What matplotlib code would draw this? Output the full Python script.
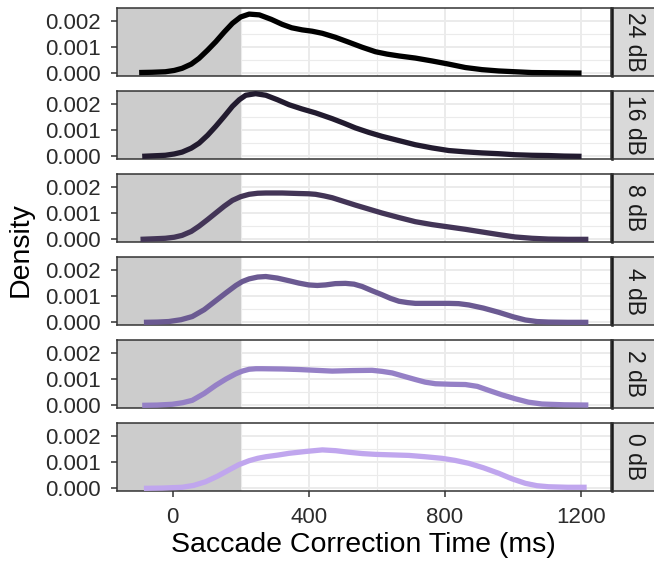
import matplotlib
matplotlib.use("Agg")
import matplotlib.pyplot as plt

plt.rcParams['font.family'] = ['Liberation Sans', 'DejaVu Sans']

# facet labels, top to bottom
levels = ['24 dB', '16 dB', '8 dB', '4 dB', '2 dB', '0 dB']
colors = ['#000000', '#221b2f', '#433557', '#6b5a92', '#9580c6', '#c0a6ee']

# density curves (x in ms, y density)
x_24 = [-98, -60, -21, 5, 28, 55, 78, 103, 127, 152, 176, 200, 225, 255, 290, 322, 350, 381, 410, 440, 478, 518, 557, 596, 630, 665, 713, 762, 811, 860, 909, 958, 1006, 1055, 1130, 1201]
y_24 = [0.00003, 0.00004, 0.00006, 0.00011, 0.00019, 0.00035, 0.00057, 0.00088, 0.0012, 0.00157, 0.0019, 0.00214, 0.00225, 0.00222, 0.00205, 0.00186, 0.00173, 0.00165, 0.00160, 0.00152, 0.00137, 0.00118, 0.00099, 0.00082, 0.00073, 0.00066, 0.00058, 0.00047, 0.00035, 0.00022, 0.00014, 0.00009, 0.00006, 0.00003, 0.00002, 0.00001]

x_16 = [-89, -55, -21, 5, 28, 55, 78, 103, 127, 152, 176, 196, 215, 244, 274, 308, 342, 380, 420, 469, 503, 537, 576, 615, 664, 713, 762, 811, 860, 909, 958, 1006, 1055, 1104, 1150, 1201]
y_16 = [0.0, 0.00002, 0.00004, 0.00009, 0.00016, 0.00031, 0.0005, 0.0008, 0.00114, 0.00152, 0.0019, 0.00215, 0.00232, 0.00238, 0.00232, 0.00215, 0.00196, 0.0018, 0.00165, 0.00143, 0.00126, 0.00108, 0.00091, 0.00076, 0.0006, 0.00044, 0.00032, 0.00022, 0.00017, 0.00013, 0.0001, 0.00006, 0.00004, 0.00003, 0.00001, 0.0]

x_8 = [-94, -55, -21, 5, 28, 55, 78, 103, 127, 152, 176, 200, 225, 250, 274, 322, 371, 400, 420, 445, 469, 503, 537, 576, 615, 664, 713, 762, 811, 860, 909, 958, 1006, 1055, 1104, 1160, 1221]
y_8 = [0.0, 0.00002, 0.00004, 0.00008, 0.00015, 0.0003, 0.0005, 0.00075, 0.001, 0.00126, 0.00148, 0.00162, 0.00171, 0.00175, 0.00176, 0.00176, 0.00174, 0.00173, 0.00171, 0.00165, 0.00158, 0.00144, 0.0013, 0.00115, 0.001, 0.00083, 0.00067, 0.00056, 0.00047, 0.00038, 0.00028, 0.00018, 0.00009, 0.00004, 0.00001, 0.0, 0.0]

x_4 = [-84, -45, -11, 25, 58, 93, 127, 157, 186, 205, 225, 250, 274, 308, 342, 371, 400, 425, 449, 478, 508, 533, 557, 586, 615, 640, 665, 690, 713, 762, 811, 840, 870, 913, 958, 1000, 1036, 1070, 1104, 1160, 1221]
y_4 = [0.0, 0.00001, 0.00003, 0.0001, 0.00022, 0.00048, 0.00082, 0.00112, 0.0014, 0.00155, 0.00165, 0.00172, 0.00174, 0.00168, 0.00158, 0.00149, 0.00142, 0.0014, 0.00142, 0.00147, 0.00148, 0.00145, 0.00136, 0.0012, 0.00105, 0.00091, 0.0008, 0.00075, 0.00072, 0.00072, 0.00072, 0.00071, 0.00066, 0.00054, 0.00038, 0.00021, 0.00009, 0.00003, 0.00001, 0.0, 0.0]

x_2 = [-89, -45, -1, 30, 58, 93, 127, 157, 186, 205, 225, 245, 264, 322, 371, 420, 469, 528, 586, 615, 645, 680, 713, 742, 772, 816, 860, 895, 928, 967, 1006, 1045, 1085, 1150, 1221]
y_2 = [0.0, 0.00001, 0.00004, 0.0001, 0.00019, 0.00045, 0.00076, 0.001, 0.0012, 0.0013, 0.00137, 0.00139, 0.00139, 0.00138, 0.00136, 0.00133, 0.0013, 0.00132, 0.00133, 0.00129, 0.00123, 0.0011, 0.00098, 0.00088, 0.00082, 0.0008, 0.00079, 0.00072, 0.00057, 0.0004, 0.00025, 0.00012, 0.00005, 0.00002, 0.00001]

x_0 = [-84, -30, 28, 62, 97, 132, 166, 195, 225, 250, 274, 308, 342, 391, 440, 479, 518, 557, 596, 645, 694, 742, 791, 830, 870, 913, 958, 997, 1036, 1070, 1104, 1160, 1216]
y_0 = [0.0, 0.00001, 0.00004, 0.00011, 0.00025, 0.00046, 0.0007, 0.0009, 0.00105, 0.00114, 0.0012, 0.00126, 0.00133, 0.0014, 0.00146, 0.00143, 0.00137, 0.00132, 0.00129, 0.00127, 0.00125, 0.0012, 0.00114, 0.00106, 0.00095, 0.00078, 0.00057, 0.00036, 0.00019, 0.0001, 0.00006, 0.00004, 0.00004]

curves = [(x_24, y_24), (x_16, y_16), (x_8, y_8), (x_4, y_4), (x_2, y_2), (x_0, y_0)]

W, H = 654, 562
fig = plt.figure(figsize=(W / 100, H / 100), dpi=100)

left, right = 117, 610.5
top0, ph, step = 8.3, 67.4, 83

for i, (lab, col, (xs, ys)) in enumerate(zip(levels, colors, curves)):
    top = top0 + i * step
    ax = fig.add_axes([left / W, 1 - (top + ph) / H, (right - left) / W, ph / H])
    ax.set_xlim(-163, 1286)
    ax.set_ylim(-0.00009, 0.00247)

    # shaded region before 200 ms
    ax.axvspan(-300, 200, color='#cccccc', lw=0, zorder=1)
    ax.plot(xs, ys, color=col, lw=3.8, solid_capstyle='butt', solid_joinstyle='round', zorder=3)

    ax.set_xticks([0, 400, 800, 1200])
    ax.set_xticks([200, 600, 1000], minor=True)
    ax.set_yticks([0, 0.001, 0.002])
    ax.set_yticks([0.0005, 0.0015], minor=True)
    ax.set_yticklabels(['0.000', '0.001', '0.002'])
    ax.grid(which='major', color='#ebebeb', lw=1.4, zorder=0)
    ax.grid(which='minor', color='#ebebeb', lw=0.8, zorder=0)
    ax.set_axisbelow(True)
    ax.tick_params(which='minor', length=0)
    ax.tick_params(which='major', length=4.5, width=1.1, color='#333333',
                   labelsize=16, labelcolor='#2b2b2b', pad=7)
    for s in ax.spines.values():
        s.set_color('#333333')
        s.set_linewidth(1.1)
    if i < len(levels) - 1:
        ax.tick_params(axis='x', length=0, labelbottom=False)
    else:
        ax.set_xlabel('Saccade Correction Time (ms)', fontsize=20.5, labelpad=3)

    # facet strip on the right
    st = fig.add_axes([612 / W, 1 - (top + ph) / H, 44 / W, ph / H])
    st.set_facecolor('#d9d9d9')
    st.set_xticks([])
    st.set_yticks([])
    for s in st.spines.values():
        s.set_color('#333333')
        s.set_linewidth(1.1)
    st.spines['left'].set_color('#1a1a1a')
    st.spines['left'].set_linewidth(1.8)
    st.text(0.5, 0.5, lab, rotation=-90, ha='center', va='center',
            fontsize=16.5, color='#1a1a1a', transform=st.transAxes)

fig.text(21 / W, 1 - 250 / H, 'Density', rotation=90, ha='center', va='center', fontsize=20.5)

fig.savefig('out.png', dpi=100)
